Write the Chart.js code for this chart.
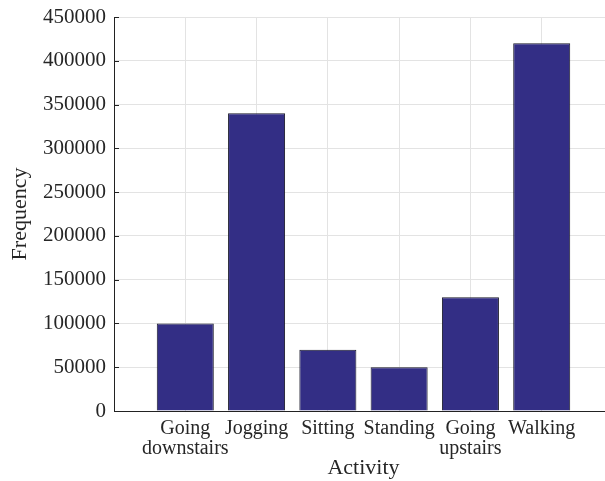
<!DOCTYPE html>
<html>
<head>
<meta charset="utf-8">
<script src="https://cdn.jsdelivr.net/npm/chart.js@4.4.0/dist/chart.umd.min.js"></script>
<style>
  html, body { margin: 0; padding: 0; background: #fff; overflow: hidden; }
</style>
</head>
<body>
<canvas id="chart" width="613" height="481"></canvas>
<script>
// activity counts, empty slots at both ends so the axis runs 0..7
let activities = ['', ['Going', 'downstairs'], 'Jogging', 'Sitting', 'Standing', ['Going', 'upstairs'], 'Walking', '']
let frequency = [null, 100000, 340000, 70000, 50000, 130000, 420000, null]
let yTicks = [0, 50000, 100000, 150000, 200000, 250000, 300000, 350000, 400000, 450000]

const textColor = '#262626'
const serif = "'Liberation Serif', 'Times New Roman', serif"

// short dark tick marks drawn inside the plot on the left axis
const innerTicks = {
    id: 'innerTicks',
    afterDraw(chart) {
        let ctx = chart.ctx
        let area = chart.chartArea
        let y = chart.scales.y
        ctx.save()
        ctx.strokeStyle = '#222'
        ctx.lineWidth = 1
        ctx.beginPath()
        y.ticks.forEach(t => {
            let py = Math.round(y.getPixelForValue(t.value)) + 0.5
            ctx.moveTo(area.left, py)
            ctx.lineTo(area.left + 5, py)
        })
        ctx.stroke()
        ctx.restore()
    }
}

const ctx = document.getElementById('chart')
let globalChart = new Chart(ctx, {
    type: 'bar',
    data: {
        labels: activities,
        datasets: [{
            label: 'Frequency',
            data: frequency,
            backgroundColor: '#332e85',
            borderColor: '#1a1a2a',
            borderWidth: 1,
            barPercentage: 1,
            categoryPercentage: 0.8
        }]
    },
    options: {
        responsive: false,
        animation: false,
        layout: { padding: { top: 17, right: -8, left: 0, bottom: 0 } },
        plugins: {
            legend: { display: false },
            tooltip: { enabled: false }
        },
        scales: {
            x: {
                offset: false,
                grid: { color: '#e3e3e3', drawTicks: false, offset: false },
                border: { color: '#222', width: 1 },
                ticks: {
                    color: textColor,
                    padding: 8,
                    maxRotation: 0,
                    autoSkip: false,
                    font: { family: serif, size: 20, lineHeight: 1.0 }
                },
                title: {
                    display: true,
                    text: 'Activity',
                    color: textColor,
                    padding: 0,
                    font: { family: serif, size: 22 }
                },
                afterFit: (scale) => { scale.height = 70; scale.paddingRight = 0 }
            },
            y: {
                min: 0,
                max: 450000,
                afterBuildTicks: (scale) => { scale.ticks = yTicks.map(v => ({ value: v })) },
                grid: { color: '#e3e3e3', drawTicks: false },
                border: { color: '#222', width: 1 },
                ticks: {
                    color: textColor,
                    padding: 8,
                    font: { family: serif, size: 21 },
                    callback: (v) => String(v)
                },
                title: {
                    display: true,
                    text: 'Frequency',
                    color: textColor,
                    padding: { top: 7, bottom: 0 },
                    font: { family: serif, size: 22 }
                },
                afterFit: (scale) => {
                    scale.width = 114
                    scale.paddingTop = 0
                    scale.paddingBottom = 0
                }
            }
        }
    },
    plugins: [innerTicks]
})
</script>
</body>
</html>
